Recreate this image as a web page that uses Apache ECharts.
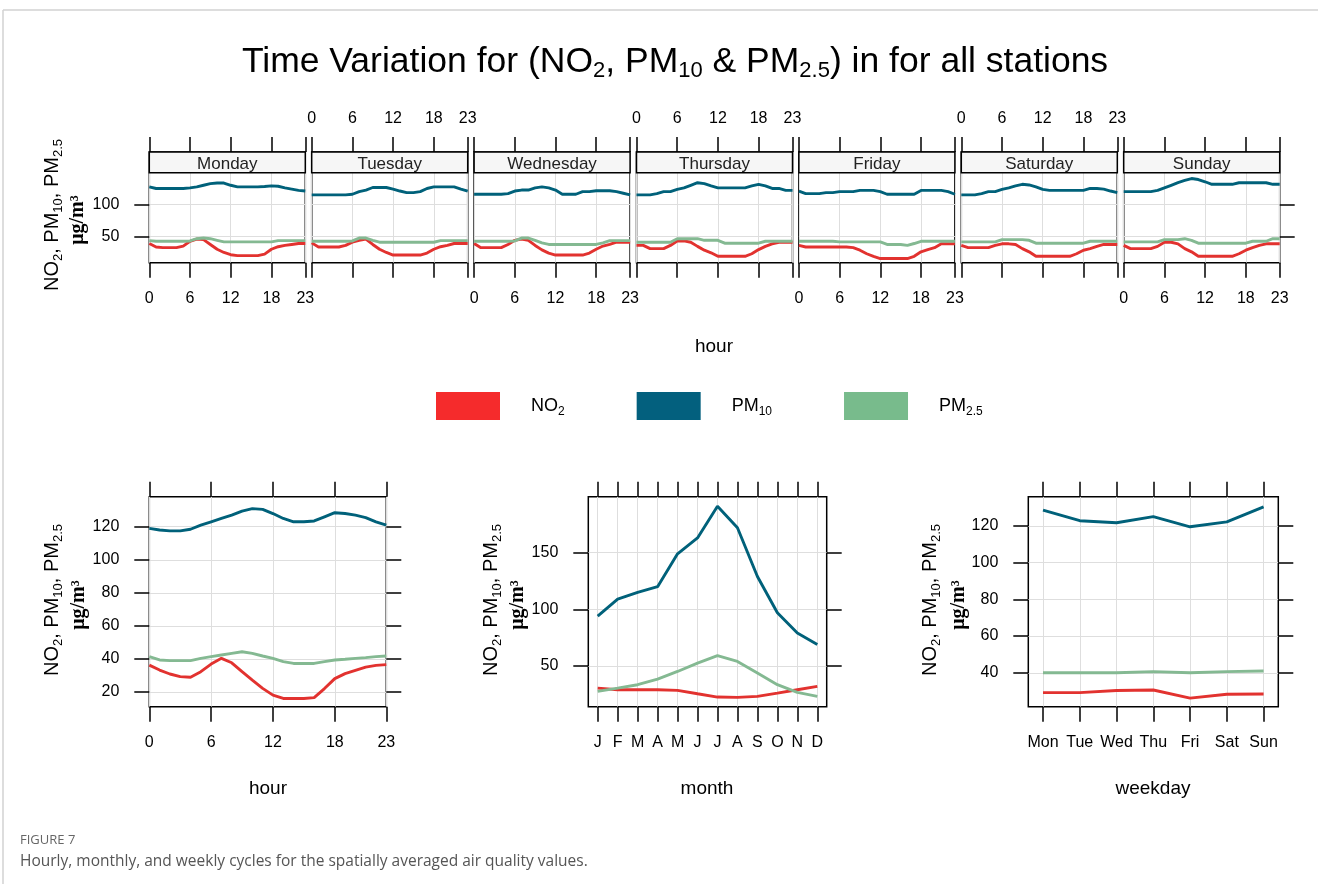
<!DOCTYPE html>
<html>
<head>
<meta charset="utf-8">
<script src="https://cdn.jsdelivr.net/npm/echarts@6/dist/echarts.min.js"></script>
<style>html,body{margin:0;padding:0;background:#fff}#c{width:1318px;height:884px}</style>
</head>
<body>
<div id="c"></div>
<script>
// ---------------- DATA ----------------
const days = ['Monday','Tuesday','Wednesday','Thursday','Friday','Saturday','Sunday'];
const hours = [0,1,2,3,4,5,6,7,8,9,10,11,12,13,14,15,16,17,18,19,20,21,22,23];
const hourTicks = [0,6,12,18,23];
const monthLabels = ['J','F','M','A','M','J','J','A','S','O','N','D'];
const monthIdx = [1,2,3,4,5,6,7,8,9,10,11,12];
const weekdayLabels = ['Mon','Tue','Wed','Thu','Fri','Sat','Sun'];
const weekdayIdx = [1,2,3,4,5,6,7];

// day x hour panels
const mondayNO2   = [39,33.5,32.5,32.5,32.5,35,42.5,46,45,37.5,30,25,21.5,20,20,20,20,22.5,30,34,36,37.5,39,39];
const mondayPM10  = [127.5,125,125,125,125,125,126,127.5,130,132.5,133.5,133.5,130,127.5,127.5,127.5,127.5,128,129,128.5,126,124,122,121];
const mondayPM25  = [43.5,42.5,42.5,42.5,42.5,42.5,43,46.5,47.5,46.5,44,41.5,41.5,41.5,41.5,41.5,41.5,41.5,41.5,43.5,43.5,43.5,43.5,43.5];
const tuesdayNO2  = [40,33.5,33.5,33.5,33.5,36,41,44,46,37.5,30,25,21,21,21,21,21,24,30,34,36,39,39,39];
const tuesdayPM10 = [115,115,115,115,115,115,116,120,122.5,126.5,126.5,126.5,124,121,118.5,118.5,120,125,127.5,127.5,127.5,127.5,124,121];
const tuesdayPM25 = [42.5,42.5,42.5,42.5,42.5,42.5,43,47.5,47.5,44,41,41,41,41,41,41,41,41,41,43.5,43.5,43.5,43.5,43.5];
const wednesdayNO2  = [39,32.5,32.5,32.5,32.5,37.5,44,46,44,36,29,24,21,21,21,21,21,24,30,35,37.5,41,41,41];
const wednesdayPM10 = [116,116,116,116,116,117,121,122.5,122.5,126,127.5,126,122.5,116,116,116,120,120,121.5,121.5,121.5,120,117.5,115];
const wednesdayPM25 = [42.5,42.5,42.5,42.5,42.5,42.5,43,47.5,47.5,44,40,37.5,37.5,37.5,37.5,37.5,37.5,37.5,37.5,40,43.5,43.5,43.5,43.5];
const thursdayNO2  = [36,36,31,31,31,36,43,43,41,34.5,28.5,24.5,19,19,19,19,19,23,29.5,34.5,38.5,41,41,41];
const thursdayPM10 = [115,115,115,117,120,120,123.5,126,130,134,132.5,129,126,126,126,126,126,129,131.5,129,125,125,122,122];
const thursdayPM25 = [41,41,41,41,41,41,46.5,46.5,46.5,46.5,44,44,44,39.5,39.5,39.5,39.5,39.5,39.5,42.5,42.5,42.5,42.5,42.5];
const fridayNO2  = [36,33.5,33.5,33.5,33.5,33.5,33.5,33.5,32.5,28.5,23,19,15.5,15.5,15.5,15.5,15.5,19,26,29.5,32.5,38.5,38.5,38.5];
const fridayPM10 = [121,117,117,117,118.5,118.5,120,120,120,122,122,122,120,116,116,116,116,116,122,122,122,122,120,116];
const fridayPM25 = [42.5,42.5,42.5,42.5,42.5,42.5,41.5,41.5,41.5,41.5,41.5,41.5,41.5,37.5,37.5,37.5,36,39,42.5,42.5,42.5,42.5,42.5,42.5];
const saturdayNO2  = [36,32.5,32.5,32.5,32.5,36,38.5,38.5,37.5,31,26,19,19,19,19,19,19,23,28.5,31,34.5,37.5,37.5,37.5];
const saturdayPM10 = [115,115,115,117,120,120,123.5,126,129,131.5,130.5,127.5,123.5,122,122,122,122,122,122,125,125,124,121,118.5];
const saturdayPM25 = [41.5,41.5,41.5,41.5,41.5,41.5,45,45,45,45,44,39.5,39.5,39.5,39.5,39.5,39.5,39.5,39.5,42.5,42.5,42.5,42.5,42.5];
const sundayNO2  = [36,31,31,31,31,34.5,41,41,38.5,31,26,19,19,19,19,19,19,23,28.5,32.5,36,38.5,38.5,38.5];
const sundayPM10 = [120,120,120,120,120,122,126,130,134,137.5,140.5,139,135.5,131.5,131.5,131.5,131.5,134,134,134,134,134,131.5,131.5];
const sundayPM25 = [41.5,41.5,41.5,41.5,41.5,41.5,45,45,45,46.5,44,39.5,39.5,39.5,39.5,39.5,39.5,39.5,39.5,42.5,42.5,42.5,46.5,46.5];

// hour panel
const hourNO2  = [36.2,33.2,30.8,29.2,28.8,32.2,36.8,40.3,37.6,32.2,27.1,22.1,18,16,16,16,16.5,22,28,31,33,35,36,36.5];
const hourPM10 = [119,118,117.5,117.5,118.5,121,123,125,127,129.5,131,130.5,128,125,123,123,123.5,126,128.5,128,127,125.5,123,121];
const hourPM25 = [41.3,39.3,38.9,38.9,38.9,40.3,41.3,42.3,43.3,44.3,43.3,41.7,40.3,38.3,37.2,37.2,37.2,38.3,39.3,39.7,40.3,40.7,41.3,41.7];

// month panel
const monthNO2  = [30.4,29,29,29,28.4,25.4,22.5,22.2,23.1,26,29,31.9];
const monthPM10 = [94,109,115,120,149,163,191,172,129,97,79,69];
const monthPM25 = [27.5,30.4,33.4,38.4,45.1,52.5,59,54,43.7,33.4,26.6,23.1];

// weekday panel
const weekdayNO2  = [29.2,29.2,30.3,30.6,26.2,28.3,28.4];
const weekdayPM10 = [128.7,122.9,121.8,125.1,119.6,122.3,130.5];
const weekdayPM25 = [40,40,40,40.6,40,40.6,41];

const dayNO2  = [mondayNO2, tuesdayNO2, wednesdayNO2, thursdayNO2, fridayNO2, saturdayNO2, sundayNO2];
const dayPM10 = [mondayPM10, tuesdayPM10, wednesdayPM10, thursdayPM10, fridayPM10, saturdayPM10, sundayPM10];
const dayPM25 = [mondayPM25, tuesdayPM25, wednesdayPM25, thursdayPM25, fridayPM25, saturdayPM25, sundayPM25];

// ---------------- STYLE ----------------
const FONT = 'Liberation Sans';
const SERIF = 'Liberation Serif';
const COLORS = {NO2:'#e2322f', PM10:'#00617a', 'PM2.5':'#84b992'};
const LEG_COLORS = {NO2:'#f52b2c', PM10:'#03607e', 'PM2.5':'#78bb8c'};
const NAMES = ['NO2','PM10','PM2.5'];

const grids = [], xAxes = [], yAxes = [], series = [], graphic = [];

function pairs(xs, ys){ return xs.map((x,i)=>[x, ys[i]]); }

function panel(p){
  const gi = grids.length;
  grids.push({left:p.left, top:p.top, width:p.width, height:p.height, show:true,
    borderColor:'#000', borderWidth:1.5, backgroundColor:'rgba(0,0,0,0)'});
  const tickStyle = {color:'#000', width:1.5};
  const noLine = {show:false, onZero:false};
  const lab = {fontFamily:FONT, fontSize:16, color:'#000', customValues:p.xTicks, formatter:p.xFmt};
  xAxes.push({type:'value', gridIndex:gi, position:'bottom', min:p.xMin, max:p.xMax,
    axisLine:noLine,
    axisTick:{show:true, length:15, customValues:p.xTicks, lineStyle:tickStyle},
    axisLabel:Object.assign({show:p.xBottomLab, margin:28}, lab),
    splitLine:{show:true, lineStyle:{color:'#dedede', width:1}}});
  xAxes.push({type:'value', gridIndex:gi, position:'top', min:p.xMin, max:p.xMax,
    axisLine:noLine,
    axisTick:{show:true, length:15, customValues:p.xTicks, lineStyle:tickStyle},
    axisLabel:Object.assign({show:p.xTopLab, margin:25}, lab),
    splitLine:{show:false}});
  yAxes.push({type:'value', gridIndex:gi, position:'left', min:p.yMin, max:p.yMax,
    axisLine:noLine,
    axisTick:{show:p.yLeft, length:15, customValues:p.yTicks, lineStyle:tickStyle},
    axisLabel:{show:p.yLeftLab, margin:30, customValues:p.yTicks, fontFamily:FONT, fontSize:16, color:'#000'},
    splitLine:{show:true, lineStyle:{color:'#dedede', width:1}}});
  yAxes.push({type:'value', gridIndex:gi, position:'right', min:p.yMin, max:p.yMax,
    axisLine:noLine,
    axisTick:{show:p.yRight, length:15, customValues:p.yTicks, lineStyle:tickStyle},
    axisLabel:{show:false}, splitLine:{show:false}});
  NAMES.forEach(n=>{
    series.push({type:'line', name:n, xAxisIndex:2*gi, yAxisIndex:2*gi, data:p.data[n],
      symbol:'none', silent:true, animation:false, z:3,
      lineStyle:{color:COLORS[n], width:2.9}, itemStyle:{color:COLORS[n]}});
  });
}

// top: seven day panels
const TOP_L = 149.3, TOP_STEP = 162.4, TOP_W = 156, TOP_T = 152, TOP_H = 110.7, STRIP_H = 20.7;
days.forEach((d,i)=>{
  panel({left:TOP_L + i*TOP_STEP, top:TOP_T, width:TOP_W, height:TOP_H,
    xMin:0, xMax:23, xTicks:hourTicks, xFmt:v=>String(v),
    xBottomLab: i%2===0, xTopLab: i%2===1,
    yMin:9, yMax:182, yTicks:[50,100], yLeft:i===0, yLeftLab:i===0, yRight:i===6,
    data:{NO2:pairs(hours, dayNO2[i]), PM10:pairs(hours, dayPM10[i]), 'PM2.5':pairs(hours, dayPM25[i])}});
  graphic.push({type:'rect', silent:true, z:100,
    shape:{x:TOP_L + i*TOP_STEP, y:TOP_T, width:TOP_W, height:STRIP_H},
    style:{fill:'#f6f6f6', stroke:'#000', lineWidth:1.5}});
  graphic.push({type:'text', silent:true, z:101, x:TOP_L + i*TOP_STEP + TOP_W/2, y:TOP_T + STRIP_H/2 + 2,
    style:{text:d, fontFamily:FONT, fontSize:17, fill:'#222', align:'center', verticalAlign:'middle'}});
});

// bottom panels
const BOT_T = 496.7, BOT_H = 210;
panel({left:149.3, top:BOT_T, width:237, height:BOT_H,
  xMin:0, xMax:23, xTicks:hourTicks, xFmt:v=>String(v), xBottomLab:true, xTopLab:false,
  yMin:11, yMax:138.2, yTicks:[20,40,60,80,100,120], yLeft:true, yLeftLab:true, yRight:true,
  data:{NO2:pairs(hours,hourNO2), PM10:pairs(hours,hourPM10), 'PM2.5':pairs(hours,hourPM25)}});
panel({left:588.3, top:BOT_T, width:238.4, height:BOT_H,
  xMin:0.53, xMax:12.47, xTicks:monthIdx, xFmt:v=>monthLabels[Math.round(v)-1], xBottomLab:true, xTopLab:false,
  yMin:14, yMax:199.4, yTicks:[50,100,150], yLeft:true, yLeftLab:true, yRight:true,
  data:{NO2:pairs(monthIdx,monthNO2), PM10:pairs(monthIdx,monthPM10), 'PM2.5':pairs(monthIdx,monthPM25)}});
panel({left:1028.3, top:BOT_T, width:250, height:BOT_H,
  xMin:0.6, xMax:7.4, xTicks:weekdayIdx, xFmt:v=>weekdayLabels[Math.round(v)-1], xBottomLab:true, xTopLab:false,
  yMin:21.5, yMax:136, yTicks:[40,60,80,100,120], yLeft:true, yLeftLab:true, yRight:true,
  data:{NO2:pairs(weekdayIdx,weekdayNO2), PM10:pairs(weekdayIdx,weekdayPM10), 'PM2.5':pairs(weekdayIdx,weekdayPM25)}});

// texts
function txt(x, y, text, size){
  graphic.push({type:'text', silent:true, z:50, x:x, y:y,
    style:{text:text, fontFamily:FONT, fontSize:size, fill:'#000', align:'center', verticalAlign:'middle'}});
}
const subRich = (fs, pad)=>({s:{fontFamily:FONT, fontSize:fs, fill:'#000', padding:[pad,0,0,0]}});

// title
graphic.push({type:'text', silent:true, z:50, x:675, y:62,
  style:{text:'Time Variation for (NO{s|2}, PM{s|10} & PM{s|2.5}) in for all stations',
    fontFamily:FONT, fontSize:35.5, fill:'#000', align:'center', verticalAlign:'middle', rich:subRich(22,17)}});

// y axis names (rotated)
function yName(x1, x2, yc){
  graphic.push({type:'text', silent:true, z:50, x:x1, y:yc, rotation:Math.PI/2,
    style:{text:'NO{s|2}, PM{s|10}, PM{s|2.5}', fontFamily:FONT, fontSize:20, fill:'#000',
      align:'center', verticalAlign:'middle', rich:subRich(13,12)}});
  graphic.push({type:'text', silent:true, z:50, x:x2, y:yc+5, rotation:Math.PI/2,
    style:{text:'\u03bcg/m\u00b3', fontFamily:SERIF, fontSize:20, fontWeight:'bold', fill:'#000',
      align:'center', verticalAlign:'middle'}});
}
yName(52, 78, 215);
yName(52, 79, 600);
yName(491, 518, 600);
yName(930, 959, 600);

txt(714, 347, 'hour', 19);
txt(268, 789, 'hour', 19);
txt(707, 789, 'month', 19);
txt(1153, 789, 'weekday', 19);

// caption
graphic.push({type:'text', silent:true, x:20, y:840,
  style:{text:'FIGURE 7', fontFamily:'Open Sans', fontSize:13, fill:'#666', align:'left', verticalAlign:'middle'}});
graphic.push({type:'text', silent:true, x:20, y:862,
  style:{text:'Hourly, monthly, and weekly cycles for the spatially averaged air quality values.',
    fontFamily:'Open Sans', fontSize:15.5, fill:'#555', align:'left', verticalAlign:'middle'}});

// frame lines
graphic.push({type:'line', silent:true, shape:{x1:3, y1:10, x2:1318, y2:10}, style:{stroke:'#d2d2d2', lineWidth:1.5}});
graphic.push({type:'line', silent:true, shape:{x1:3, y1:10, x2:3, y2:884}, style:{stroke:'#d2d2d2', lineWidth:1.5}});

const legendParts = {NO2:['NO','2'], PM10:['PM','10'], 'PM2.5':['PM','2.5']};

const chart = echarts.init(document.getElementById('c'), null, {renderer:'canvas'});
chart.setOption({
  animation:false,
  backgroundColor:'#fff',
  grid:grids, xAxis:xAxes, yAxis:yAxes, series:series,
  legend:{left:436, top:392, itemWidth:64, itemHeight:28, itemGap:72, icon:'rect', selectedMode:false,
    padding:0,
    data:NAMES.map(n=>({name:n, itemStyle:{color:LEG_COLORS[n]}})),
    formatter:n=>'{g|}{n|'+legendParts[n][0]+'}{s|'+legendParts[n][1]+'}',
    textStyle:{fontFamily:FONT, fontSize:18, color:'#000',
      rich:{g:{width:26}, n:{fontFamily:FONT, fontSize:18, color:'#000'},
            s:{fontFamily:FONT, fontSize:12, color:'#000', padding:[11,0,0,0]}}}},
  graphic:graphic
});
</script>
</body>
</html>
